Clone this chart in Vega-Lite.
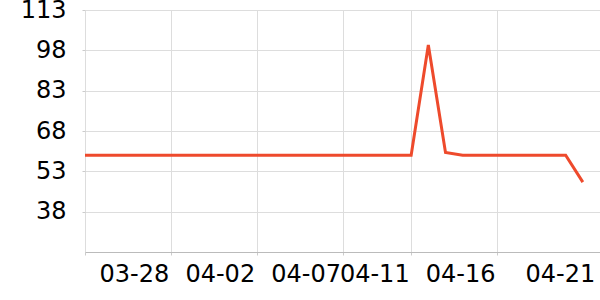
{
  "$schema": "https://vega.github.io/schema/vega-lite/v6.json",
  "width": 515,
  "height": 242,
  "autosize": {"type": "none"},
  "padding": {"left": 85, "top": 10, "right": 0, "bottom": 48},
  "background": "white",
  "config": {
    "view": {"stroke": null},
    "font": "DejaVu Sans",
    "axis": {
      "labelFont": "DejaVu Sans",
      "labelFontSize": 24,
      "labelColor": "#000000",
      "gridColor": "#dddddd",
      "tickColor": "#cccccc",
      "tickSize": 3,
      "title": null
    }
  },
  "data": {
    "values": [
      {"date": "2024-03-23", "value": 59},
      {"date": "2024-03-24", "value": 59},
      {"date": "2024-03-25", "value": 59},
      {"date": "2024-03-26", "value": 59},
      {"date": "2024-03-27", "value": 59},
      {"date": "2024-03-28", "value": 59},
      {"date": "2024-03-29", "value": 59},
      {"date": "2024-03-30", "value": 59},
      {"date": "2024-03-31", "value": 59},
      {"date": "2024-04-01", "value": 59},
      {"date": "2024-04-02", "value": 59},
      {"date": "2024-04-03", "value": 59},
      {"date": "2024-04-04", "value": 59},
      {"date": "2024-04-05", "value": 59},
      {"date": "2024-04-06", "value": 59},
      {"date": "2024-04-07", "value": 59},
      {"date": "2024-04-08", "value": 59},
      {"date": "2024-04-09", "value": 59},
      {"date": "2024-04-10", "value": 59},
      {"date": "2024-04-11", "value": 59},
      {"date": "2024-04-12", "value": 100},
      {"date": "2024-04-13", "value": 60},
      {"date": "2024-04-14", "value": 59},
      {"date": "2024-04-15", "value": 59},
      {"date": "2024-04-16", "value": 59},
      {"date": "2024-04-17", "value": 59},
      {"date": "2024-04-18", "value": 59},
      {"date": "2024-04-19", "value": 59},
      {"date": "2024-04-20", "value": 59},
      {"date": "2024-04-21", "value": 49}
    ]
  },
  "mark": {"type": "line", "color": "#ee4a2c", "strokeWidth": 3, "clip": false},
  "encoding": {
    "x": {
      "field": "date",
      "type": "temporal",
      "scale": {
        "type": "utc",
        "domain": [
          {"year": 2024, "month": 3, "date": 23, "utc": true},
          {"year": 2024, "month": 4, "date": 22, "utc": true}
        ]
      },
      "axis": {
        "values": [
          {"year": 2024, "month": 3, "date": 23, "utc": true},
          {"year": 2024, "month": 3, "date": 28, "utc": true},
          {"year": 2024, "month": 4, "date": 2, "utc": true},
          {"year": 2024, "month": 4, "date": 7, "utc": true},
          {"year": 2024, "month": 4, "date": 11, "utc": true},
          {"year": 2024, "month": 4, "date": 16, "utc": true},
          {"year": 2024, "month": 4, "date": 21, "utc": true}
        ],
        "labelExpr": "utcdate(datum.value) == 23 ? '' : utcFormat(datum.value, '%m-%d')",
        "labelAlign": "right",
        "labelBaseline": "top",
        "labelPadding": 7,
        "labelOffset": {"condition": {"test": "utcdate(datum.value) == 21", "value": 12}, "value": -2},
        "labelOverlap": false,
        "labelFlush": false,
        "domainColor": "#bbbbbb",
        "grid": true,
        "gridOpacity": {"condition": {"test": "utcdate(datum.value) == 21", "value": 0}, "value": 1},
        "tickOpacity": {"condition": {"test": "utcdate(datum.value) == 21", "value": 0}, "value": 1}
      }
    },
    "y": {
      "field": "value",
      "type": "quantitative",
      "scale": {"domain": [23, 113], "nice": false, "zero": false},
      "axis": {
        "values": [38, 53, 68, 83, 98, 113],
        "domain": false,
        "grid": true,
        "labelPadding": 16,
        "labelOverlap": false,
        "labelFlush": false
      }
    }
  }
}
